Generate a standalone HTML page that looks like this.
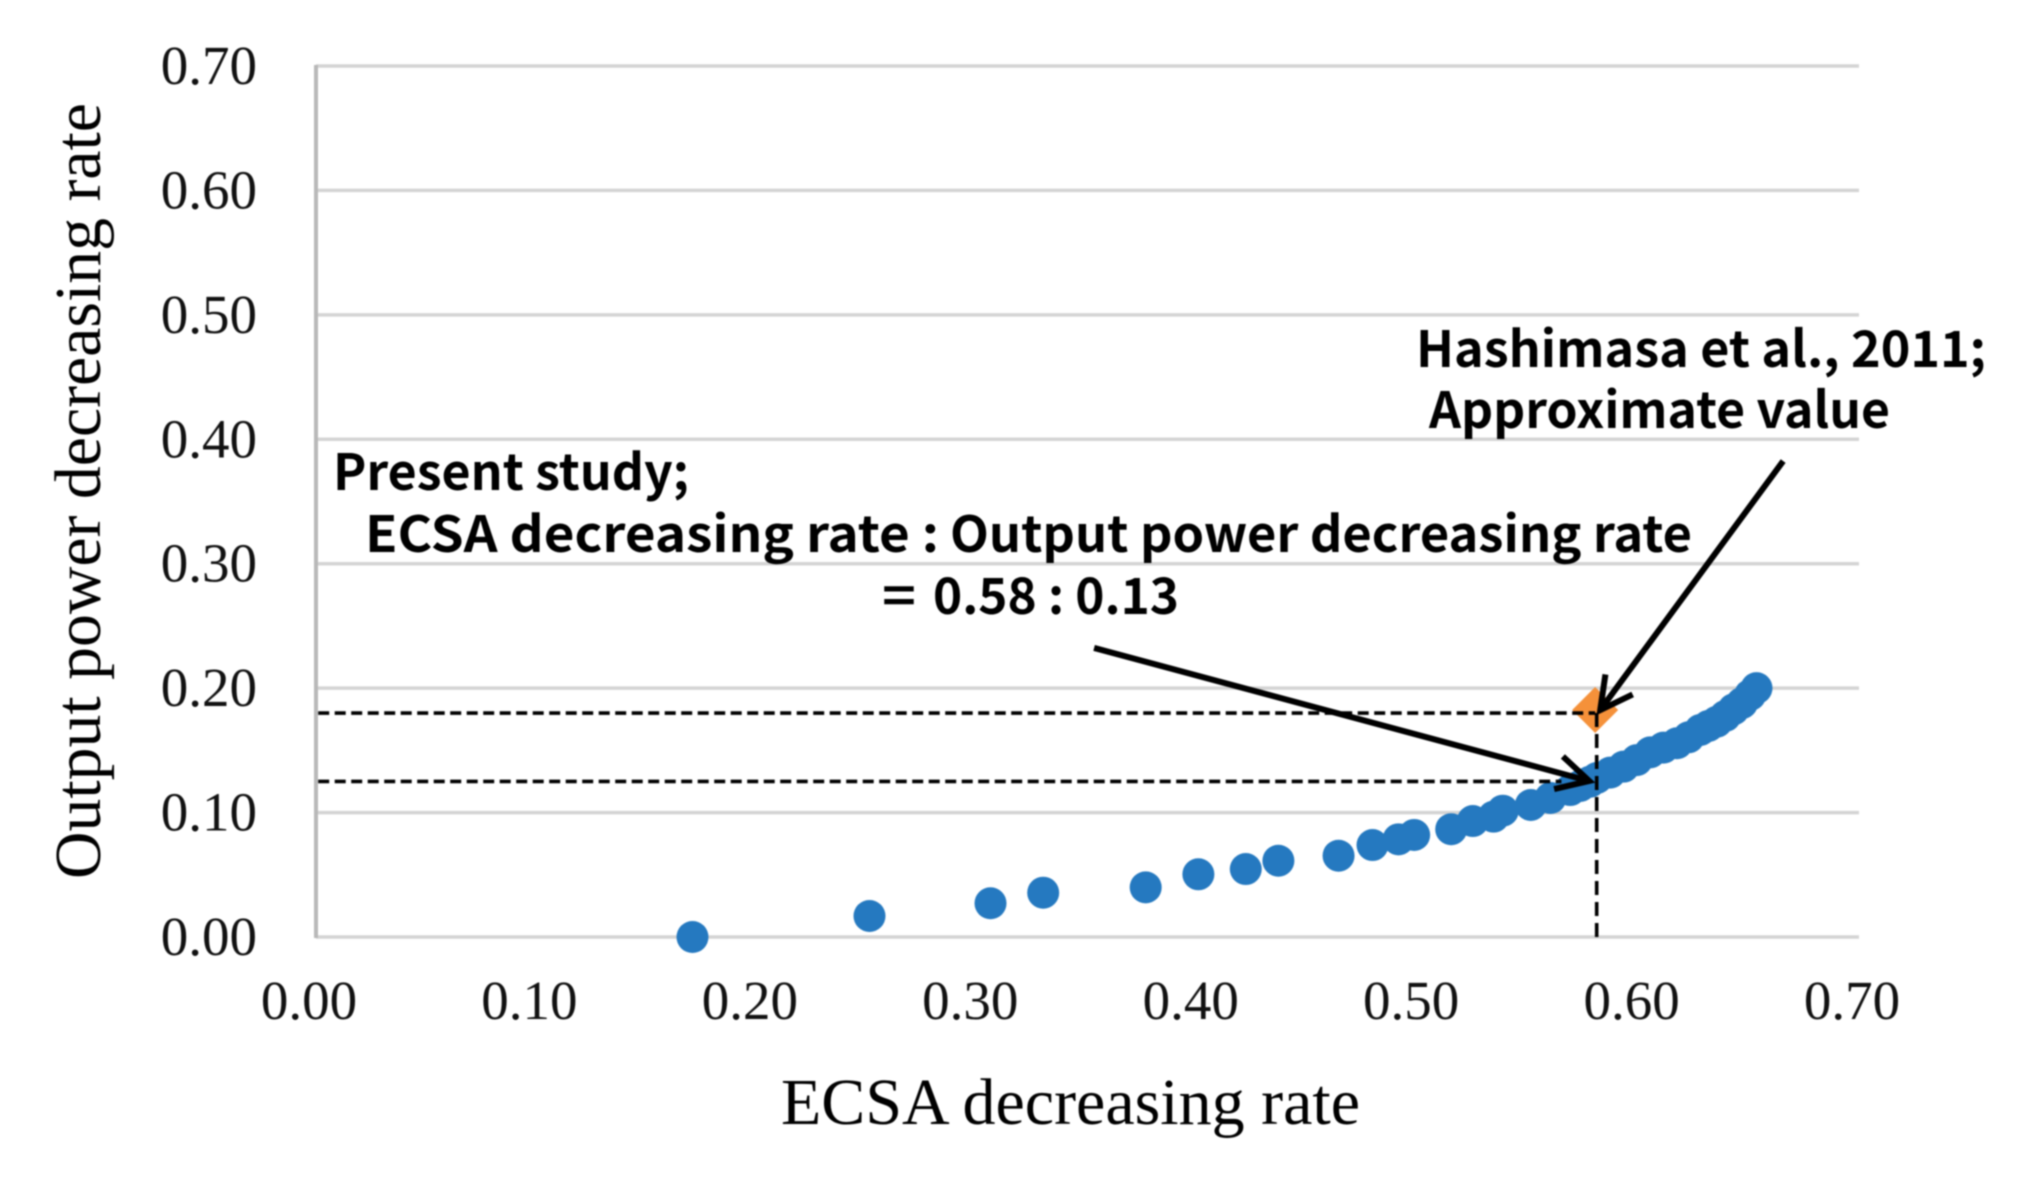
<!DOCTYPE html>
<html lang="en">
<head>
<meta charset="utf-8">
<title>ECSA decreasing rate vs output power decreasing rate</title>
<style>
html,body{margin:0;padding:0;background:#fff;width:2037px;height:1187px;overflow:hidden}
svg{display:block;filter:blur(0.9px)}
.tick{font-family:"Liberation Serif",serif;font-size:55px;fill:#111}
.title{font-family:"Liberation Serif",serif;font-size:66px;fill:#000}
.note{font-family:"Noto Sans CJK JP","Liberation Sans",sans-serif;font-size:50px;font-weight:700;fill:#000}
</style>
</head>
<body>
<svg id="chart" width="2037" height="1187" viewBox="0 0 2037 1187" xmlns="http://www.w3.org/2000/svg">
  <rect width="2037" height="1187" fill="#fff"/>
  <g id="grid"></g>
  <g id="series"></g>
  <g id="ref"></g>
  <g id="guides"></g>
  <g id="arrows"></g>
  <g id="xticks"></g>
  <g id="yticks"></g>
  <text class="title" x="781" y="1124" textLength="579" lengthAdjust="spacingAndGlyphs">ECSA decreasing rate</text>
  <text class="title" transform="translate(100,879) rotate(-90)" textLength="776" lengthAdjust="spacingAndGlyphs">Output power decreasing rate</text>
  <text class="note" x="1416" y="367" textLength="570" lengthAdjust="spacingAndGlyphs">Hashimasa et al., 2011;</text>
  <text class="note" x="1429" y="428" textLength="461" lengthAdjust="spacingAndGlyphs">Approximate value</text>
  <text class="note" x="333" y="490" textLength="356" lengthAdjust="spacingAndGlyphs">Present study;</text>
  <text class="note" x="365" y="552" textLength="574" lengthAdjust="spacingAndGlyphs">ECSA decreasing rate :</text>
  <text class="note" x="950" y="552" textLength="742" lengthAdjust="spacingAndGlyphs">Output power decreasing rate</text>
  <text class="note" x="882" y="614" textLength="34" lengthAdjust="spacingAndGlyphs">=</text>
  <text class="note" x="933" y="614" textLength="246" lengthAdjust="spacingAndGlyphs">0.58 : 0.13</text>
</svg>
<script>
var xTickValues = [0, 0.1, 0.2, 0.3, 0.4, 0.5, 0.6, 0.7];
var yTickValues = [0, 0.1, 0.2, 0.3, 0.4, 0.5, 0.6, 0.7];
var xTickLabels = ["0.00", "0.10", "0.20", "0.30", "0.40", "0.50", "0.60", "0.70"];
var yTickLabels = ["0.00", "0.10", "0.20", "0.30", "0.40", "0.50", "0.60", "0.70"];
var ecsaRate = [0.1708, 0.2511, 0.3060, 0.3299, 0.3764, 0.4003, 0.4218, 0.4366, 0.4639, 0.4793, 0.4911, 0.4982, 0.5150, 0.5248, 0.5342, 0.5384, 0.5511, 0.5600, 0.5690, 0.5735, 0.5780, 0.5811, 0.5871, 0.5932, 0.5992, 0.6053, 0.6113, 0.6174, 0.6227, 0.6280, 0.6317, 0.6355, 0.6393, 0.6431, 0.6469, 0.6506, 0.6535];
var outputRate = [0.0000, 0.0169, 0.0271, 0.0356, 0.0399, 0.0504, 0.0546, 0.0613, 0.0653, 0.0739, 0.0785, 0.0820, 0.0866, 0.0932, 0.0967, 0.1015, 0.1061, 0.1117, 0.1181, 0.1214, 0.1248, 0.1278, 0.1321, 0.1369, 0.1422, 0.1484, 0.1522, 0.1557, 0.1605, 0.1664, 0.1696, 0.1730, 0.1776, 0.1830, 0.1880, 0.1945, 0.2000];
var hashimasaEcsa = [0.5803];
var hashimasaOutput = [0.1824];
var guideLevels = [0.18, 0.125];
var guideEnds = [0.5803, 0.565];
var guideEcsa = 0.581;
var arrowTailsX = [0.6656, 0.3530];
var arrowTailsY = [0.3825, 0.2323];
var arrowTipsX = [0.5826, 0.5776];
var arrowTipsY = [0.1824, 0.1254];

var NS = 'http://www.w3.org/2000/svg';
function xScale(v) { return 316 + (v / 0.7) * 1543; }
function yScale(v) { return 937 - (v / 0.7) * 871; }
function make(parentId, tag, attrs) {
  var el = document.createElementNS(NS, tag);
  for (var k in attrs) { el.setAttribute(k, attrs[k]); }
  document.getElementById(parentId).appendChild(el);
  return el;
}

yTickValues.forEach(function (v, i) {
  var line = make('grid', 'line', {x1: xScale(0), x2: xScale(0.7), y1: yScale(v), y2: yScale(v), stroke: '#d4d4d4', 'stroke-width': 3.5});
  
  
  var label = make('yticks', 'text', {'class': 'tick', x: 257, y: yScale(v) + 18, 'text-anchor': 'end'});
  label.textContent = yTickLabels[i];
  
  
});

var yAxisLine = make('grid', 'line', {x1: xScale(0), x2: xScale(0), y1: yScale(0.7) - 1, y2: yScale(0) + 1, stroke: '#b8b8b8', 'stroke-width': 4});



xTickValues.forEach(function (v, i) {
  var label = make('xticks', 'text', {'class': 'tick', x: xScale(v) - 7, y: 1019, 'text-anchor': 'middle'});
  label.textContent = xTickLabels[i];
  
  
});

ecsaRate.forEach(function (v, i) {
  var dot = make('series', 'circle', {cx: xScale(v), cy: yScale(outputRate[i]), r: 16, fill: '#2579c0'});
  
  
});

hashimasaEcsa.forEach(function (v, i) {
  var cx = xScale(v), cy = yScale(hashimasaOutput[i]), d = 23;
  var diamond = make('ref', 'polygon', {points: cx + ',' + (cy - d) + ' ' + (cx + d) + ',' + cy + ' ' + cx + ',' + (cy + d) + ' ' + (cx - d) + ',' + cy, fill: '#f5913a'});
  
  
});

guideLevels.forEach(function (v, i) {
  var guide = make('guides', 'line', {x1: xScale(0.001), x2: xScale(guideEnds[i]), y1: yScale(v), y2: yScale(v), stroke: '#000', 'stroke-width': 3.6, 'stroke-dasharray': '11 5.5'});
  
  
});
var vGuide = make('guides', 'line', {x1: xScale(guideEcsa), x2: xScale(guideEcsa), y1: yScale(guideLevels[0]), y2: yScale(0), stroke: '#000', 'stroke-width': 3.6, 'stroke-dasharray': '14 7'});



arrowTailsX.forEach(function (v, i) {
  var tx = xScale(v), ty = yScale(arrowTailsY[i]);
  var hx = xScale(arrowTipsX[i]), hy = yScale(arrowTipsY[i]);
  var back = Math.atan2(ty - hy, tx - hx), spread = 28 * Math.PI / 180, len = 36;
  var ax = hx + len * Math.cos(back + spread), ay = hy + len * Math.sin(back + spread);
  var bx = hx + len * Math.cos(back - spread), by = hy + len * Math.sin(back - spread);
  var shaft = make('arrows', 'line', {x1: tx, y1: ty, x2: hx, y2: hy, stroke: '#000', 'stroke-width': 6});
  
  
  var head = make('arrows', 'polyline', {points: ax + ',' + ay + ' ' + hx + ',' + hy + ' ' + bx + ',' + by, fill: 'none', stroke: '#000', 'stroke-width': 6});
  
  
});
</script>
</body>
</html>
